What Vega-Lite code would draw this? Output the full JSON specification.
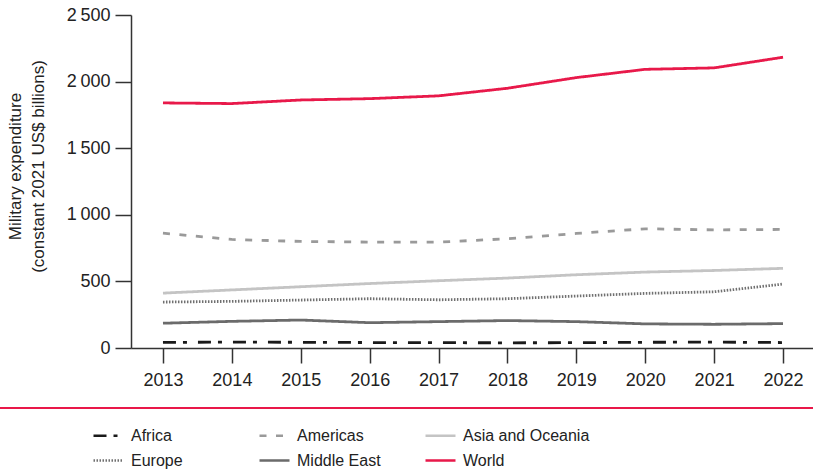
{
  "$schema": "https://vega.github.io/schema/vega-lite/v6.json",
  "width": 682,
  "height": 333,
  "autosize": {"type": "none"},
  "padding": {"left": 131, "top": 15, "right": 0, "bottom": 123},
  "background": "white",
  "config": {"view": {"stroke": null}, "font": "Liberation Sans"},
  "data": {
    "values": [
      {"year": 2013, "region": "Africa", "value": 42},
      {"year": 2014, "region": "Africa", "value": 44},
      {"year": 2015, "region": "Africa", "value": 43},
      {"year": 2016, "region": "Africa", "value": 41},
      {"year": 2017, "region": "Africa", "value": 40},
      {"year": 2018, "region": "Africa", "value": 39},
      {"year": 2019, "region": "Africa", "value": 40},
      {"year": 2020, "region": "Africa", "value": 43},
      {"year": 2021, "region": "Africa", "value": 44},
      {"year": 2022, "region": "Africa", "value": 41},
      {"year": 2013, "region": "Americas", "value": 862},
      {"year": 2014, "region": "Americas", "value": 815},
      {"year": 2015, "region": "Americas", "value": 800},
      {"year": 2016, "region": "Americas", "value": 795},
      {"year": 2017, "region": "Americas", "value": 795},
      {"year": 2018, "region": "Americas", "value": 820},
      {"year": 2019, "region": "Americas", "value": 860},
      {"year": 2020, "region": "Americas", "value": 895},
      {"year": 2021, "region": "Americas", "value": 887},
      {"year": 2022, "region": "Americas", "value": 890},
      {"year": 2013, "region": "Asia and Oceania", "value": 412},
      {"year": 2014, "region": "Asia and Oceania", "value": 436},
      {"year": 2015, "region": "Asia and Oceania", "value": 460},
      {"year": 2016, "region": "Asia and Oceania", "value": 484},
      {"year": 2017, "region": "Asia and Oceania", "value": 505},
      {"year": 2018, "region": "Asia and Oceania", "value": 525},
      {"year": 2019, "region": "Asia and Oceania", "value": 550},
      {"year": 2020, "region": "Asia and Oceania", "value": 570},
      {"year": 2021, "region": "Asia and Oceania", "value": 582},
      {"year": 2022, "region": "Asia and Oceania", "value": 598},
      {"year": 2013, "region": "Europe", "value": 345},
      {"year": 2014, "region": "Europe", "value": 350},
      {"year": 2015, "region": "Europe", "value": 360},
      {"year": 2016, "region": "Europe", "value": 370},
      {"year": 2017, "region": "Europe", "value": 362},
      {"year": 2018, "region": "Europe", "value": 370},
      {"year": 2019, "region": "Europe", "value": 390},
      {"year": 2020, "region": "Europe", "value": 410},
      {"year": 2021, "region": "Europe", "value": 422},
      {"year": 2022, "region": "Europe", "value": 480},
      {"year": 2013, "region": "Middle East", "value": 186},
      {"year": 2014, "region": "Middle East", "value": 200},
      {"year": 2015, "region": "Middle East", "value": 210},
      {"year": 2016, "region": "Middle East", "value": 190},
      {"year": 2017, "region": "Middle East", "value": 198},
      {"year": 2018, "region": "Middle East", "value": 206},
      {"year": 2019, "region": "Middle East", "value": 198},
      {"year": 2020, "region": "Middle East", "value": 181},
      {"year": 2021, "region": "Middle East", "value": 178},
      {"year": 2022, "region": "Middle East", "value": 183},
      {"year": 2013, "region": "World", "value": 1840},
      {"year": 2014, "region": "World", "value": 1835},
      {"year": 2015, "region": "World", "value": 1862},
      {"year": 2016, "region": "World", "value": 1872},
      {"year": 2017, "region": "World", "value": 1893},
      {"year": 2018, "region": "World", "value": 1950},
      {"year": 2019, "region": "World", "value": 2030},
      {"year": 2020, "region": "World", "value": 2092},
      {"year": 2021, "region": "World", "value": 2103},
      {"year": 2022, "region": "World", "value": 2183}
    ]
  },
  "layer": [
    {
      "mark": {"type": "line", "strokeWidth": 2.8, "interpolate": "linear"},
      "encoding": {
        "x": {
          "field": "year",
          "type": "quantitative",
          "scale": {"domain": [2012.536, 2022.435], "nice": false, "zero": false},
          "axis": {
            "title": null,
            "values": [2013, 2014, 2015, 2016, 2017, 2018, 2019, 2020, 2021, 2022],
            "format": "d",
            "grid": false,
            "domainColor": "#333",
            "domainWidth": 1.5,
            "tickColor": "#333",
            "tickWidth": 1.5,
            "tickSize": 15,
            "labelFontSize": 18,
            "labelColor": "#222",
            "labelPadding": 8
          }
        },
        "y": {
          "field": "value",
          "type": "quantitative",
          "scale": {"domain": [0, 2500], "nice": false},
          "axis": {
            "title": ["Military expenditure", "(constant 2021 US$ billions)"],
            "titleFontSize": 17,
            "titleFontWeight": "normal",
            "titleColor": "#222",
            "titleAngle": 270,
            "titleAlign": "center",
            "titleBaseline": "top",
            "titleX": -124,
            "titleY": 151,
            "titleLineHeight": 23,
            "values": [0, 500, 1000, 1500, 2000, 2500],
            "labelExpr": "replace(format(datum.value, ','), ',', '\u2009')",
            "grid": false,
            "domainColor": "#333",
            "domainWidth": 1.5,
            "tickColor": "#333",
            "tickWidth": 1.5,
            "tickSize": 16,
            "labelFontSize": 18,
            "labelColor": "#222",
            "labelPadding": 5
          }
        },
        "color": {
          "field": "region",
          "type": "nominal",
          "scale": {
            "domain": ["Africa", "Americas", "Asia and Oceania", "Europe", "Middle East", "World"],
            "range": ["#1a1a1a", "#9a9a9a", "#c4c4c4", "#707070", "#6b6b6b", "#e8194a"]
          },
          "legend": {
            "title": null,
            "orient": "none",
            "direction": "horizontal",
            "legendX": -39,
            "legendY": 404,
            "columns": 3,
            "gridAlign": "all",
            "columnPadding": -5,
            "rowPadding": 0,
            "padding": 0,
            "symbolType": "stroke",
            "symbolSize": 900,
            "symbolStrokeWidth": 2.5,
            "labelFontSize": 16,
            "labelColor": "#222",
            "labelOffset": 6
          }
        },
        "strokeDash": {
          "field": "region",
          "type": "nominal",
          "scale": {
            "domain": ["Africa", "Americas", "Asia and Oceania", "Europe", "Middle East", "World"],
            "range": [[13, 7, 4, 11], [7, 9.5], [1, 0], [1.5, 1.5], [1, 0], [1, 0]]
          },
          "legend": {
            "title": null,
            "orient": "none",
            "direction": "horizontal",
            "legendX": -39,
            "legendY": 404,
            "columns": 3,
            "gridAlign": "all",
            "columnPadding": -5,
            "rowPadding": 0,
            "padding": 0,
            "symbolType": "stroke",
            "symbolSize": 900,
            "symbolStrokeWidth": 2.5,
            "labelFontSize": 16,
            "labelColor": "#222",
            "labelOffset": 6
          }
        }
      }
    },
    {
      "mark": {"type": "rule", "color": "#e8194a", "strokeWidth": 1.5},
      "encoding": {
        "x": {"datum": 2010.5},
        "x2": {"datum": 2023.5},
        "y": {"datum": -450}
      }
    }
  ]
}
